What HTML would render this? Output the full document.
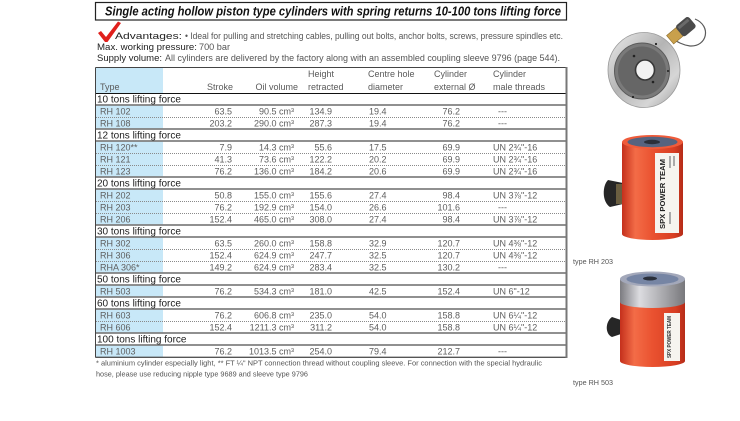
<!DOCTYPE html>
<html><head><meta charset="utf-8"><style>
html,body{margin:0;padding:0;background:#fff;}
svg{display:block;}
text{font-family:"Liberation Sans","DejaVu Sans",sans-serif;}
</style></head><body>
<svg width="740" height="421" viewBox="0 0 740 421" xmlns="http://www.w3.org/2000/svg">
<defs>
<linearGradient id="gSteel" x1="0" y1="0" x2="1" y2="1">
<stop offset="0" stop-color="#ececec"/><stop offset="0.45" stop-color="#b4b4b4"/><stop offset="0.75" stop-color="#d6d6d6"/><stop offset="1" stop-color="#9c9c9c"/>
</linearGradient>
<linearGradient id="gRed" x1="0" y1="0" x2="1" y2="0">
<stop offset="0" stop-color="#c4301c"/><stop offset="0.22" stop-color="#f36c47"/><stop offset="0.5" stop-color="#ea5230"/><stop offset="0.85" stop-color="#d83e23"/><stop offset="1" stop-color="#b52c18"/>
</linearGradient>
<linearGradient id="gSilv" x1="0" y1="0" x2="1" y2="0">
<stop offset="0" stop-color="#7b7b80"/><stop offset="0.3" stop-color="#dcdce0"/><stop offset="0.6" stop-color="#b2b2b6"/><stop offset="1" stop-color="#78787c"/>
</linearGradient>
</defs>

<!-- Title -->
<rect x="95.5" y="2.5" width="471" height="17.5" fill="#fff" stroke="#222" stroke-width="1.2"/>
<text x="105" y="15.5" font-size="12.5" font-weight="bold" font-style="italic" fill="#111" textLength="456" lengthAdjust="spacingAndGlyphs">Single acting hollow piston type cylinders with spring returns 10-100 tons lifting force</text>

<!-- checkmark -->
<polygon points="98,33 101,31 106,37 118,21.5 121,23 107.5,42 105,42" fill="#e0201c"/>

<text x="115" y="39" font-size="9.5" fill="#222" textLength="67" lengthAdjust="spacingAndGlyphs">Advantages:</text>
<text x="185" y="39" font-size="9" fill="#555" textLength="378" lengthAdjust="spacingAndGlyphs">• Ideal for pulling and stretching cables, pulling out bolts, anchor bolts, screws, pressure spindles etc.</text>
<text x="97" y="50" font-size="9.5" fill="#222" textLength="100" lengthAdjust="spacingAndGlyphs">Max. working pressure:</text>
<text x="199" y="50" font-size="9" fill="#555" textLength="31" lengthAdjust="spacingAndGlyphs">700 bar</text>
<text x="97" y="61" font-size="9.5" fill="#222" textLength="65" lengthAdjust="spacingAndGlyphs">Supply volume:</text>
<text x="165" y="61" font-size="9" fill="#555" textLength="395" lengthAdjust="spacingAndGlyphs">All cylinders are delivered by the factory along with an assembled coupling sleeve 9796 (page 544).</text>

<!-- Table backgrounds -->
<g fill="#c8e8f8">
<rect x="96" y="68" width="67" height="25"/>
<rect x="96" y="105" width="67" height="24"/>
<rect x="96" y="141" width="67" height="36"/>
<rect x="96" y="189" width="67" height="36"/>
<rect x="96" y="237" width="67" height="36"/>
<rect x="96" y="285" width="67" height="12"/>
<rect x="96" y="309" width="67" height="24"/>
<rect x="96" y="345" width="67" height="12"/>
</g>

<!-- dotted lines -->
<g stroke="#8a8a8a" stroke-width="1" stroke-dasharray="1,1">
<line x1="96" y1="117.5" x2="566" y2="117.5"/>
<line x1="96" y1="153.5" x2="566" y2="153.5"/>
<line x1="96" y1="165.5" x2="566" y2="165.5"/>
<line x1="96" y1="201.5" x2="566" y2="201.5"/>
<line x1="96" y1="213.5" x2="566" y2="213.5"/>
<line x1="96" y1="249.5" x2="566" y2="249.5"/>
<line x1="96" y1="261.5" x2="566" y2="261.5"/>
<line x1="96" y1="321.5" x2="566" y2="321.5"/>
</g>
<!-- thick section lines -->
<g stroke="#808080" stroke-width="1.8">
<line x1="96" y1="105" x2="566" y2="105"/>
<line x1="96" y1="129" x2="566" y2="129"/>
<line x1="96" y1="141" x2="566" y2="141"/>
<line x1="96" y1="177" x2="566" y2="177"/>
<line x1="96" y1="189" x2="566" y2="189"/>
<line x1="96" y1="225" x2="566" y2="225"/>
<line x1="96" y1="237" x2="566" y2="237"/>
<line x1="96" y1="273" x2="566" y2="273"/>
<line x1="96" y1="285" x2="566" y2="285"/>
<line x1="96" y1="297" x2="566" y2="297"/>
<line x1="96" y1="309" x2="566" y2="309"/>
<line x1="96" y1="333" x2="566" y2="333"/>
<line x1="96" y1="345" x2="566" y2="345"/>
</g>
<line x1="95.5" y1="93.5" x2="566" y2="93.5" stroke="#111" stroke-width="1"/>
<!-- outer border -->
<line x1="95.5" y1="67.5" x2="566" y2="67.5" stroke="#444" stroke-width="1"/>
<line x1="95.5" y1="67.5" x2="95.5" y2="357.5" stroke="#444" stroke-width="1"/>
<line x1="95.5" y1="357.3" x2="567" y2="357.3" stroke="#555" stroke-width="1.4"/>
<line x1="566.5" y1="67" x2="566.5" y2="358" stroke="#777" stroke-width="2"/>

<!-- Header -->
<g font-size="9" fill="#5a5a5a">
<text x="308" y="77">Height</text>
<text x="368" y="77">Centre hole</text>
<text x="434" y="77">Cylinder</text>
<text x="493" y="77">Cylinder</text>
<text x="100" y="90">Type</text>
<text x="233" y="90" text-anchor="end">Stroke</text>
<text x="298" y="90" text-anchor="end">Oil volume</text>
<text x="308" y="90">retracted</text>
<text x="368" y="90">diameter</text>
<text x="434" y="90">external Ø</text>
<text x="493" y="90">male threads</text>
</g>

<!-- Section labels -->
<g font-size="10" fill="#1c1c1c">
<text x="97" y="102.5">10 tons lifting force</text>
<text x="97" y="138.5">12 tons lifting force</text>
<text x="97" y="186.5">20 tons lifting force</text>
<text x="97" y="234.5">30 tons lifting force</text>
<text x="97" y="282.5">50 tons lifting force</text>
<text x="97" y="306.5">60 tons lifting force</text>
<text x="97" y="342.5">100 tons lifting force</text>
</g>

<!-- Data -->
<g font-size="9" fill="#5e5e5e">
<!-- Type -->
<text x="100" y="114.5">RH 102</text>
<text x="100" y="126.5">RH 108</text>
<text x="100" y="150.5">RH 120**</text>
<text x="100" y="162.5">RH 121</text>
<text x="100" y="174.5">RH 123</text>
<text x="100" y="198.5">RH 202</text>
<text x="100" y="210.5">RH 203</text>
<text x="100" y="222.5">RH 206</text>
<text x="100" y="246.5">RH 302</text>
<text x="100" y="258.5">RH 306</text>
<text x="100" y="270.5">RHA 306*</text>
<text x="100" y="294.5">RH 503</text>
<text x="100" y="318.5">RH 603</text>
<text x="100" y="330.5">RH 606</text>
<text x="100" y="354.5">RH 1003</text>
</g>
<g font-size="9" fill="#5e5e5e" text-anchor="end">
<!-- Stroke -->
<text x="232" y="114.5">63.5</text>
<text x="232" y="126.5">203.2</text>
<text x="232" y="150.5">7.9</text>
<text x="232" y="162.5">41.3</text>
<text x="232" y="174.5">76.2</text>
<text x="232" y="198.5">50.8</text>
<text x="232" y="210.5">76.2</text>
<text x="232" y="222.5">152.4</text>
<text x="232" y="246.5">63.5</text>
<text x="232" y="258.5">152.4</text>
<text x="232" y="270.5">149.2</text>
<text x="232" y="294.5">76.2</text>
<text x="232" y="318.5">76.2</text>
<text x="232" y="330.5">152.4</text>
<text x="232" y="354.5">76.2</text>
<!-- Oil -->
<text x="294" y="114.5">90.5 cm³</text>
<text x="294" y="126.5">290.0 cm³</text>
<text x="294" y="150.5">14.3 cm³</text>
<text x="294" y="162.5">73.6 cm³</text>
<text x="294" y="174.5">136.0 cm³</text>
<text x="294" y="198.5">155.0 cm³</text>
<text x="294" y="210.5">192.9 cm³</text>
<text x="294" y="222.5">465.0 cm³</text>
<text x="294" y="246.5">260.0 cm³</text>
<text x="294" y="258.5">624.9 cm³</text>
<text x="294" y="270.5">624.9 cm³</text>
<text x="294" y="294.5">534.3 cm³</text>
<text x="294" y="318.5">606.8 cm³</text>
<text x="294" y="330.5">1211.3 cm³</text>
<text x="294" y="354.5">1013.5 cm³</text>
<!-- Height -->
<text x="332" y="114.5">134.9</text>
<text x="332" y="126.5">287.3</text>
<text x="332" y="150.5">55.6</text>
<text x="332" y="162.5">122.2</text>
<text x="332" y="174.5">184.2</text>
<text x="332" y="198.5">155.6</text>
<text x="332" y="210.5">154.0</text>
<text x="332" y="222.5">308.0</text>
<text x="332" y="246.5">158.8</text>
<text x="332" y="258.5">247.7</text>
<text x="332" y="270.5">283.4</text>
<text x="332" y="294.5">181.0</text>
<text x="332" y="318.5">235.0</text>
<text x="332" y="330.5">311.2</text>
<text x="332" y="354.5">254.0</text>
<!-- External -->
<text x="460" y="114.5">76.2</text>
<text x="460" y="126.5">76.2</text>
<text x="460" y="150.5">69.9</text>
<text x="460" y="162.5">69.9</text>
<text x="460" y="174.5">69.9</text>
<text x="460" y="198.5">98.4</text>
<text x="460" y="210.5">101.6</text>
<text x="460" y="222.5">98.4</text>
<text x="460" y="246.5">120.7</text>
<text x="460" y="258.5">120.7</text>
<text x="460" y="270.5">130.2</text>
<text x="460" y="294.5">152.4</text>
<text x="460" y="318.5">158.8</text>
<text x="460" y="330.5">158.8</text>
<text x="460" y="354.5">212.7</text>
</g>
<g font-size="9" fill="#5e5e5e">
<!-- Centre -->
<text x="369" y="114.5">19.4</text>
<text x="369" y="126.5">19.4</text>
<text x="369" y="150.5">17.5</text>
<text x="369" y="162.5">20.2</text>
<text x="369" y="174.5">20.6</text>
<text x="369" y="198.5">27.4</text>
<text x="369" y="210.5">26.6</text>
<text x="369" y="222.5">27.4</text>
<text x="369" y="246.5">32.9</text>
<text x="369" y="258.5">32.5</text>
<text x="369" y="270.5">32.5</text>
<text x="369" y="294.5">42.5</text>
<text x="369" y="318.5">54.0</text>
<text x="369" y="330.5">54.0</text>
<text x="369" y="354.5">79.4</text>
<!-- Male threads -->
<text x="498" y="114.5">---</text>
<text x="498" y="126.5">---</text>
<text x="493" y="150.5">UN 2¾"-16</text>
<text x="493" y="162.5">UN 2¾"-16</text>
<text x="493" y="174.5">UN 2¾"-16</text>
<text x="493" y="198.5">UN 3⅞"-12</text>
<text x="498" y="210.5">---</text>
<text x="493" y="222.5">UN 3⅞"-12</text>
<text x="493" y="246.5">UN 4⅜"-12</text>
<text x="493" y="258.5">UN 4⅜"-12</text>
<text x="498" y="270.5">---</text>
<text x="493" y="294.5">UN 6"-12</text>
<text x="493" y="318.5">UN 6¼"-12</text>
<text x="493" y="330.5">UN 6¼"-12</text>
<text x="498" y="354.5">---</text>
</g>

<!-- Footnotes -->
<text x="96" y="365.5" font-size="7.5" fill="#555" textLength="446" lengthAdjust="spacingAndGlyphs">* aluminium cylinder especially light, ** FT ¼" NPT connection thread without coupling sleeve. For connection with the special hydraulic</text>
<text x="96" y="376.5" font-size="7.5" fill="#555" textLength="212" lengthAdjust="spacingAndGlyphs">hose, please use reducing nipple type 9689 and sleeve type 9796</text>

<text x="573" y="264" font-size="7.5" fill="#555" textLength="40" lengthAdjust="spacingAndGlyphs">type RH 203</text>
<text x="573" y="385" font-size="7.5" fill="#555" textLength="40" lengthAdjust="spacingAndGlyphs">type RH 503</text>

<!-- Image 1: hollow cylinder top view -->
<path d="M695,19 C712,26 707,47 690,46 C682,45 676,41 671,38" fill="none" stroke="#5a5a5a" stroke-width="1.2"/>
<ellipse cx="644" cy="70" rx="36" ry="37.5" fill="url(#gSteel)" stroke="#999" stroke-width="0.8"/>
<ellipse cx="642" cy="71" rx="27.5" ry="28" fill="#7a7a7a" stroke="#5a5a5a" stroke-width="1"/>
<ellipse cx="642" cy="71" rx="24" ry="24.5" fill="#666"/>
<ellipse cx="645" cy="70" rx="9.5" ry="10" fill="#f2f2f2" stroke="#383838" stroke-width="1.6"/>
<g fill="#222">
<circle cx="634" cy="56" r="1.3"/><circle cx="653" cy="82" r="1.3"/><circle cx="656" cy="44" r="1.1"/><circle cx="633" cy="97" r="1.1"/><circle cx="668" cy="71" r="1"/>
</g>
<g transform="translate(677,34) rotate(-40)">
<rect x="-9" y="-5.5" width="13" height="11" fill="#c9a04c" stroke="#8a6a2a" stroke-width="0.6"/>
<rect x="3" y="-7" width="17" height="14" rx="3" fill="#4a4a4a"/>
<rect x="5" y="-5" width="13" height="3" fill="#6a6a6a"/>
</g>

<!-- Image 2: red cylinder RH 203 -->
<path d="M608,180 C602,186 602,202 610,207 L623,204 L623,183 Z" fill="#262626"/>
<rect x="616" y="184" width="7" height="20" fill="#6a5e40"/>
<path d="M622,142 L622,234 A30.5,6 0 0 0 683,234 L683,142 Z" fill="url(#gRed)"/>
<ellipse cx="652.5" cy="142" rx="30.5" ry="7" fill="#ef5b3a"/>
<ellipse cx="652.5" cy="142" rx="25" ry="5.2" fill="#55637f"/>
<ellipse cx="652" cy="142" rx="8" ry="2.2" fill="#2a2f3a"/>
<rect x="655" y="153" width="24" height="80" fill="#f6f4ef"/>
<text transform="translate(665,229) rotate(-90)" font-size="7" font-weight="bold" fill="#222" textLength="70" lengthAdjust="spacingAndGlyphs">SPX  POWER TEAM</text>
<g fill="#aaa"><rect x="669" y="156" width="2" height="12"/><rect x="673" y="156" width="2" height="10"/><rect x="669" y="212" width="2" height="12"/></g>

<!-- Image 3: RH 503 -->
<path d="M612,317 C605,322 605,334 612,337 L621,334 L621,320 Z" fill="#262626"/>
<path d="M620,298 L620,361 A32.5,6 0 0 0 685,361 L685,298 Z" fill="url(#gRed)"/>
<path d="M620,279 L620,302 A32.5,6 0 0 0 685,302 L685,279 Z" fill="url(#gSilv)"/>
<ellipse cx="652.5" cy="279" rx="32.5" ry="7.5" fill="#a3a8ba"/>
<ellipse cx="652.5" cy="279" rx="26" ry="5.5" fill="#7685a4"/>
<ellipse cx="650" cy="278.5" rx="7" ry="2" fill="#2a2f3a"/>
<rect x="664" y="313" width="16" height="48" fill="#f6f4ef"/>
<text transform="translate(671,358) rotate(-90)" font-size="5" font-weight="bold" fill="#333" textLength="42" lengthAdjust="spacingAndGlyphs">SPX POWER TEAM</text>
</svg>
</body></html>
